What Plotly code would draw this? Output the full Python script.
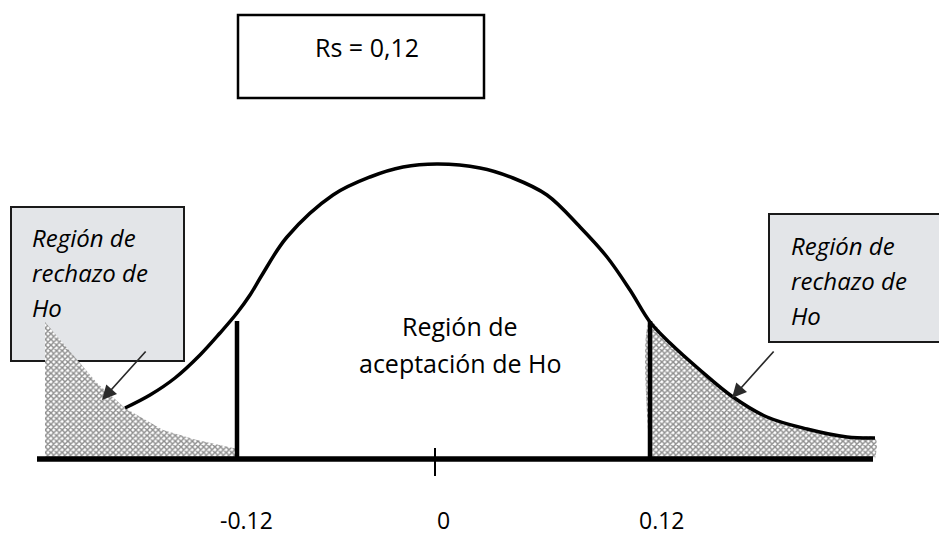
import plotly.graph_objects as go

# ---- data (x in drawing units, height above the baseline) ----
curve_x = [125, 150, 175, 200, 220, 237, 250, 262, 287, 333, 370, 403, 438, 480, 513,
           547, 580, 607, 630, 650, 670, 700, 733, 767, 807, 847, 875]
curve_h = [51, 64, 81, 104, 126, 146, 164, 184, 222, 264, 282, 292, 295, 291, 281,
           264, 232, 202, 169, 137, 116, 89, 62, 42, 30, 22, 21]

left_tail_x = [45, 63, 97, 125, 163, 197, 233]
left_tail_h = [137, 116, 76, 51, 29, 19, 11]

crit_low_x = 237     # position of -0.12 boundary
crit_high_x = 650    # position of 0.12 boundary
crit_h = 138
axis_x = [37, 873]
center_x = 435

tick_labels = ["-0.12", "0", "0.12"]
tick_label_x = [246, 443, 662]

title_text = "Rs = 0,12"
reject_lines = ["Región de", "rechazo de", "Ho"]
accept_lines = ["Región de", "aceptación de Ho"]

FONT = "Open Sans"
BASE_PX = 459  # baseline row in the 538 px canvas


def py(row):
    """convert a pixel row of the canvas to a height above the baseline"""
    return BASE_PX - row


fig = go.Figure()

hatch = dict(shape="x", size=4, solidity=0.6, fgcolor="#1e1e1e", bgcolor="white")

# left rejection region (hatched)
lx = left_tail_x + [crit_low_x, crit_low_x, left_tail_x[0]]
lh = left_tail_h + [left_tail_h[-1], 0, 0]
fig.add_trace(go.Scatter(x=lx, y=lh, fill="toself", mode="lines",
                         line=dict(width=0, color="rgba(0,0,0,0)"),
                         fillcolor="white", fillpattern=hatch, hoverinfo="skip"))

# right rejection region (hatched) under the curve
rx = [crit_high_x] + [x for x in curve_x if x >= crit_high_x] + [curve_x[-1]]
rh = [0] + [h for x, h in zip(curve_x, curve_h) if x >= crit_high_x] + [0]
fig.add_trace(go.Scatter(x=rx, y=rh, fill="toself", mode="lines",
                         line=dict(width=0, color="rgba(0,0,0,0)", shape="spline"),
                         fillcolor="white", fillpattern=hatch, hoverinfo="skip"))

# bell curve
fig.add_trace(go.Scatter(x=curve_x, y=curve_h, mode="lines",
                         line=dict(color="black", width=3.5, shape="spline", smoothing=1.0),
                         hoverinfo="skip"))

# critical value lines
for cx in (crit_low_x, crit_high_x):
    fig.add_trace(go.Scatter(x=[cx, cx], y=[0, crit_h], mode="lines",
                             line=dict(color="black", width=4.5), hoverinfo="skip"))

# horizontal axis
fig.add_trace(go.Scatter(x=axis_x, y=[0, 0], mode="lines",
                         line=dict(color="black", width=5.5), hoverinfo="skip"))
# centre tick
fig.add_trace(go.Scatter(x=[center_x, center_x], y=[py(448), py(476)], mode="lines",
                         line=dict(color="black", width=2), hoverinfo="skip"))

# boxes
marble = "#e3e5e8"
fig.add_shape(type="rect", x0=11, x1=184, y0=py(207), y1=py(361),
              line=dict(color="#1a1a1a", width=2), fillcolor=marble, layer="below")
fig.add_shape(type="rect", x0=769, x1=945, y0=py(214), y1=py(342),
              line=dict(color="#1a1a1a", width=2), fillcolor=marble, layer="below")
fig.add_shape(type="rect", x0=238, x1=484, y0=py(15), y1=py(98),
              line=dict(color="black", width=2.5), fillcolor="white", layer="below")

ann = []
ann.append(dict(x=367, y=py(47), text=title_text, showarrow=False,
                font=dict(family=FONT, size=25, color="black"),
                xanchor="center", yanchor="middle"))

for i, t in enumerate(reject_lines):
    ann.append(dict(x=30, y=py(237 + 35 * i), text="<i>%s</i>" % t, showarrow=False,
                    font=dict(family=FONT, size=24, color="black"),
                    xanchor="left", yanchor="middle"))
    ann.append(dict(x=789, y=py(245 + 35 * i), text="<i>%s</i>" % t, showarrow=False,
                    font=dict(family=FONT, size=24, color="black"),
                    xanchor="left", yanchor="middle"))

for i, t in enumerate(accept_lines):
    ann.append(dict(x=460, y=py(326 + 37 * i), text=t, showarrow=False,
                    font=dict(family=FONT, size=25, color="black"),
                    xanchor="center", yanchor="middle"))

for t, x in zip(tick_labels, tick_label_x):
    ann.append(dict(x=x, y=py(520), text=t, showarrow=False,
                    font=dict(family=FONT, size=23, color="black"),
                    xanchor="center", yanchor="middle"))

# arrows pointing to the rejection regions
for (tx, ty, hx, hy) in [(147, 350, 102, 400), (775, 350, 732, 398)]:
    ann.append(dict(x=hx, y=py(hy), ax=tx, ay=py(ty), xref="x", yref="y",
                    axref="x", ayref="y", text="", showarrow=True,
                    arrowhead=2, arrowsize=1.7, arrowwidth=1.7, arrowcolor="#2a2a2a"))

fig.update_layout(
    width=939, height=538, margin=dict(l=0, r=0, t=0, b=0),
    paper_bgcolor="white", plot_bgcolor="white", showlegend=False,
    annotations=ann,
    xaxis=dict(range=[0, 939], visible=False, fixedrange=True),
    yaxis=dict(range=[py(538), py(0)], visible=False, fixedrange=True),
)

fig.write_html("out.html", config={"displayModeBar": False},
               post_script="document.body.style.margin='0';document.body.style.overflow='hidden';")
